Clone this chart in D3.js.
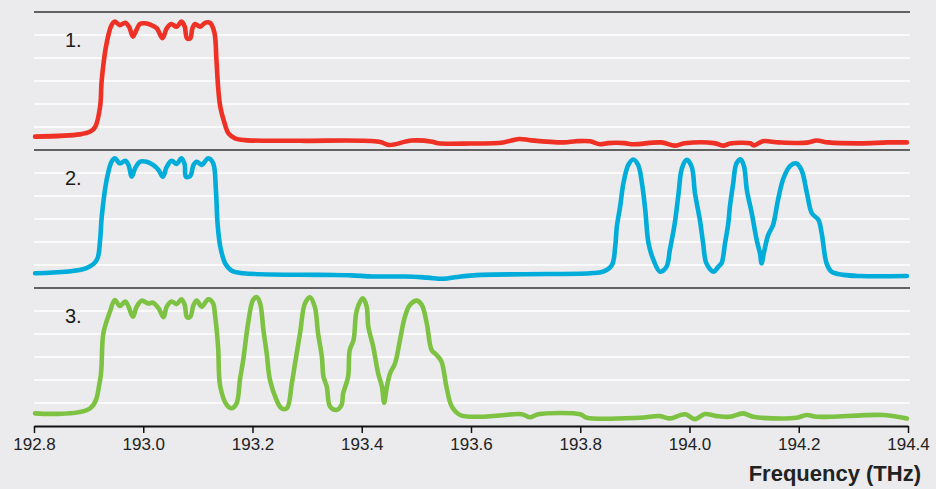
<!DOCTYPE html>
<html>
<head>
<meta charset="utf-8">
<script src="https://cdn.jsdelivr.net/npm/d3@7"></script>
<style>
  body { margin: 0; background: #ebebed; }
  svg { display: block; }
  .axis text { font-family: "Liberation Sans", Arial, sans-serif; font-size: 17px; fill: #222; }
  .axis path, .axis line { stroke: #111; }
</style>
</head>
<body>
<div class="chart"></div>
<script>
// panel labels
var panelNames = ['1.', '2.', '3.'];
var tickValues = [192.8, 193.0, 193.2, 193.4, 193.6, 193.8, 194.0, 194.2, 194.4];
var seriesColors = ['#ee3124', '#00acd9', '#7dc242'];

// 1. red spectrum (frequency THz, level in grid units)
var freq1 = [192.802, 192.884, 192.903, 192.912, 192.921, 192.924, 192.933, 192.942, 192.948, 192.957,
  192.967, 192.974, 192.981, 192.986, 192.994, 193.003, 193.015, 193.025, 193.035, 193.043,
  193.051, 193.061, 193.070, 193.076, 193.080, 193.086, 193.090, 193.095, 193.104, 193.113,
  193.122, 193.130, 193.134, 193.137, 193.141, 193.148, 193.156, 193.168, 193.186, 193.287,
  193.432, 193.450, 193.491, 193.529, 193.540, 193.598, 193.659, 193.688, 193.710, 193.770,
  193.792, 193.818, 193.836, 193.851, 193.881, 193.897, 193.948, 193.973, 193.991, 194.045,
  194.063, 194.074, 194.111, 194.118, 194.134, 194.164, 194.215, 194.233, 194.254, 194.312,
  194.363, 194.398];
var level1 = [0.58, 0.68, 0.80, 1.00, 1.88, 3.04, 4.65, 5.43, 5.58, 5.43,
  5.53, 5.36, 4.93, 5.14, 5.48, 5.51, 5.43, 5.29, 4.86, 5.29,
  5.48, 5.36, 5.58, 5.36, 4.86, 4.86, 5.29, 5.48, 5.36, 5.53,
  5.53, 5.14, 3.91, 2.75, 1.88, 1.23, 0.72, 0.51, 0.43, 0.40,
  0.36, 0.22, 0.41, 0.36, 0.29, 0.28, 0.33, 0.48, 0.42, 0.33,
  0.38, 0.38, 0.25, 0.30, 0.30, 0.25, 0.33, 0.19, 0.29, 0.30,
  0.19, 0.28, 0.29, 0.20, 0.38, 0.33, 0.32, 0.41, 0.33, 0.29,
  0.33, 0.33];

// 2. blue spectrum
var freq2 = [192.802, 192.896, 192.915, 192.921, 192.924, 192.933, 192.942, 192.948, 192.957, 192.967,
  192.973, 192.979, 192.985, 192.994, 193.006, 193.018, 193.028, 193.036, 193.043, 193.052,
  193.061, 193.070, 193.076, 193.078, 193.086, 193.092, 193.098, 193.107, 193.119, 193.128,
  193.133, 193.136, 193.141, 193.150, 193.162, 193.183, 193.324, 193.380, 193.420, 193.480,
  193.520, 193.550, 193.575, 193.620, 193.700, 193.818, 193.842, 193.858, 193.864, 193.867,
  193.873, 193.879, 193.888, 193.897, 193.906, 193.913, 193.919, 193.925, 193.934, 193.946,
  193.958, 193.964, 193.973, 193.980, 193.986, 193.995, 194.004, 194.010, 194.019, 194.025,
  194.031, 194.044, 194.053, 194.059, 194.065, 194.071, 194.074, 194.080, 194.086, 194.094,
  194.100, 194.105, 194.114, 194.123, 194.129, 194.132, 194.136, 194.144, 194.153, 194.162,
  194.172, 194.184, 194.195, 194.205, 194.215, 194.224, 194.236, 194.242, 194.251, 194.260,
  194.282, 194.312, 194.398];
var level2 = [0.64, 0.86, 1.22, 2.09, 3.10, 4.70, 5.49, 5.64, 5.42, 5.53,
  5.35, 4.84, 5.20, 5.49, 5.49, 5.35, 5.13, 4.84, 5.27, 5.53,
  5.39, 5.64, 5.35, 4.84, 4.87, 5.35, 5.49, 5.35, 5.64, 5.42,
  4.26, 2.81, 1.80, 1.07, 0.75, 0.64, 0.57, 0.55, 0.50, 0.50,
  0.45, 0.40, 0.48, 0.57, 0.60, 0.64, 0.71, 1.00, 1.80, 2.67,
  3.54, 4.55, 5.35, 5.59, 5.35, 4.55, 3.39, 1.94, 1.22, 0.71,
  0.93, 1.65, 2.81, 4.12, 5.20, 5.57, 5.27, 4.12, 2.96, 1.94,
  1.07, 0.71, 0.93, 1.10, 1.94, 2.81, 3.54, 4.55, 5.42, 5.59,
  5.27, 4.26, 3.25, 2.09, 1.51, 1.07, 1.51, 2.30, 2.74, 3.83,
  4.77, 5.30, 5.42, 5.13, 4.12, 3.25, 2.96, 2.38, 1.07, 0.71,
  0.57, 0.52, 0.52];

// 3. green spectrum
var freq3 = [192.802, 192.903, 192.921, 192.927, 192.939, 192.948, 192.957, 192.967, 192.973, 192.981,
  192.988, 192.997, 193.009, 193.018, 193.028, 193.037, 193.043, 193.052, 193.061, 193.070,
  193.076, 193.080, 193.086, 193.092, 193.098, 193.107, 193.119, 193.128, 193.131, 193.137,
  193.141, 193.153, 193.162, 193.171, 193.177, 193.183, 193.192, 193.201, 193.208, 193.214,
  193.220, 193.226, 193.232, 193.244, 193.253, 193.263, 193.272, 193.278, 193.287, 193.296,
  193.305, 193.314, 193.320, 193.327, 193.330, 193.336, 193.342, 193.354, 193.363, 193.366,
  193.375, 193.378, 193.385, 193.391, 193.402, 193.409, 193.412, 193.421, 193.430, 193.437,
  193.441, 193.446, 193.452, 193.461, 193.470, 193.479, 193.488, 193.501, 193.510, 193.519,
  193.528, 193.537, 193.546, 193.555, 193.565, 193.580, 193.616, 193.693, 193.708, 193.723,
  193.800, 193.812, 193.909, 193.946, 193.964, 193.992, 194.010, 194.028, 194.050, 194.074,
  194.098, 194.117, 194.153, 194.196, 194.215, 194.233, 194.355, 194.398];
var level3 = [0.55, 0.77, 2.00, 4.03, 4.97, 5.48, 5.22, 5.41, 5.19, 4.75,
  5.19, 5.45, 5.33, 5.36, 5.12, 4.73, 5.19, 5.41, 5.30, 5.51,
  5.26, 4.73, 4.75, 5.26, 5.45, 5.19, 5.51, 5.33, 4.90, 3.45,
  1.71, 0.91, 0.77, 0.99, 2.00, 2.87, 4.47, 5.48, 5.60, 5.33,
  4.17, 3.16, 2.00, 1.13, 0.77, 0.77, 1.86, 2.73, 4.03, 5.33,
  5.60, 5.19, 4.03, 3.01, 2.14, 1.71, 0.84, 0.70, 0.91, 1.42,
  2.14, 3.30, 3.74, 5.04, 5.55, 5.19, 4.32, 3.45, 2.29, 1.71,
  1.01, 1.71, 2.29, 2.73, 3.74, 4.75, 5.26, 5.45, 5.26, 4.47,
  3.30, 3.09, 2.80, 1.71, 0.84, 0.48, 0.40, 0.51, 0.38, 0.51,
  0.51, 0.36, 0.36, 0.43, 0.33, 0.51, 0.30, 0.52, 0.43, 0.40,
  0.55, 0.40, 0.33, 0.36, 0.48, 0.40, 0.48, 0.33];

var freqs = [freq1, freq2, freq3];
var levels = [level1, level2, level3];

var width = 936, height = 489;
var left = 34, right = 908;
var panelTop = 12, panelHeight = 138;

var svg = d3.select('.chart').append('svg')
    .attr('width', width)
    .attr('height', height);

svg.append('rect')
    .attr('width', width)
    .attr('height', height)
    .attr('fill', '#ebebed');

var xScale = d3.scaleLinear()
    .domain([192.8, 194.4])
    .range([left, right]);

var line = d3.line()
    .curve(d3.curveCatmullRom.alpha(0.5));

panelNames.forEach(function(name, i) {
  var top = panelTop + i * panelHeight;
  var yScale = d3.scaleLinear()
      .domain([0, 6])
      .range([top + panelHeight, top]);

  var g = svg.append('g').attr('class', 'panel');

  // white gridlines
  g.selectAll('.grid')
      .data([1, 2, 3, 4, 5])
    .enter().append('line')
      .attr('class', 'grid')
      .attr('x1', left)
      .attr('x2', right + 2)
      .attr('y1', function(d) { return yScale(d); })
      .attr('y2', function(d) { return yScale(d); })
      .attr('stroke', '#ffffff')
      .attr('stroke-width', 1.6);

  // dark top border of panel
  g.append('line')
      .attr('x1', left)
      .attr('x2', right + 2)
      .attr('y1', yScale(6))
      .attr('y2', yScale(6))
      .attr('stroke', '#333')
      .attr('stroke-width', 1.6);

  g.append('text')
      .attr('x', left + 31)
      .attr('y', yScale(5) + 12)
      .attr('font-family', '"Liberation Sans", Arial, sans-serif')
      .attr('font-size', 20)
      .attr('fill', '#1a1a1a')
      .text(name);

  var pts = freqs[i].map(function(f, k) { return [xScale(f), yScale(levels[i][k])]; });

  g.append('path')
      .attr('d', line(pts))
      .attr('fill', 'none')
      .attr('stroke', seriesColors[i])
      .attr('stroke-width', 4.6)
      .attr('stroke-linejoin', 'round')
      .attr('stroke-linecap', 'round');
});

var axisY = panelTop + 3 * panelHeight;

svg.append('g')
    .attr('class', 'x axis')
    .attr('transform', 'translate(0,' + axisY + ')')
    .call(d3.axisBottom(xScale)
      .tickValues(tickValues)
      .tickFormat(d3.format('.1f'))
      .tickSize(7)
      .tickSizeOuter(0)
      .tickPadding(5))
    .call(function(a) {
      a.select('.domain').attr('stroke-width', 2);
      a.selectAll('.tick line').attr('stroke-width', 1.5);
    });

svg.append('text')
    .attr('x', 921)
    .attr('y', 481)
    .attr('text-anchor', 'end')
    .attr('font-family', '"Liberation Sans", Arial, sans-serif')
    .attr('font-size', 22)
    .attr('font-weight', 'bold')
    .attr('fill', '#222')
    .text('Frequency (THz)');
</script>
</body>
</html>
